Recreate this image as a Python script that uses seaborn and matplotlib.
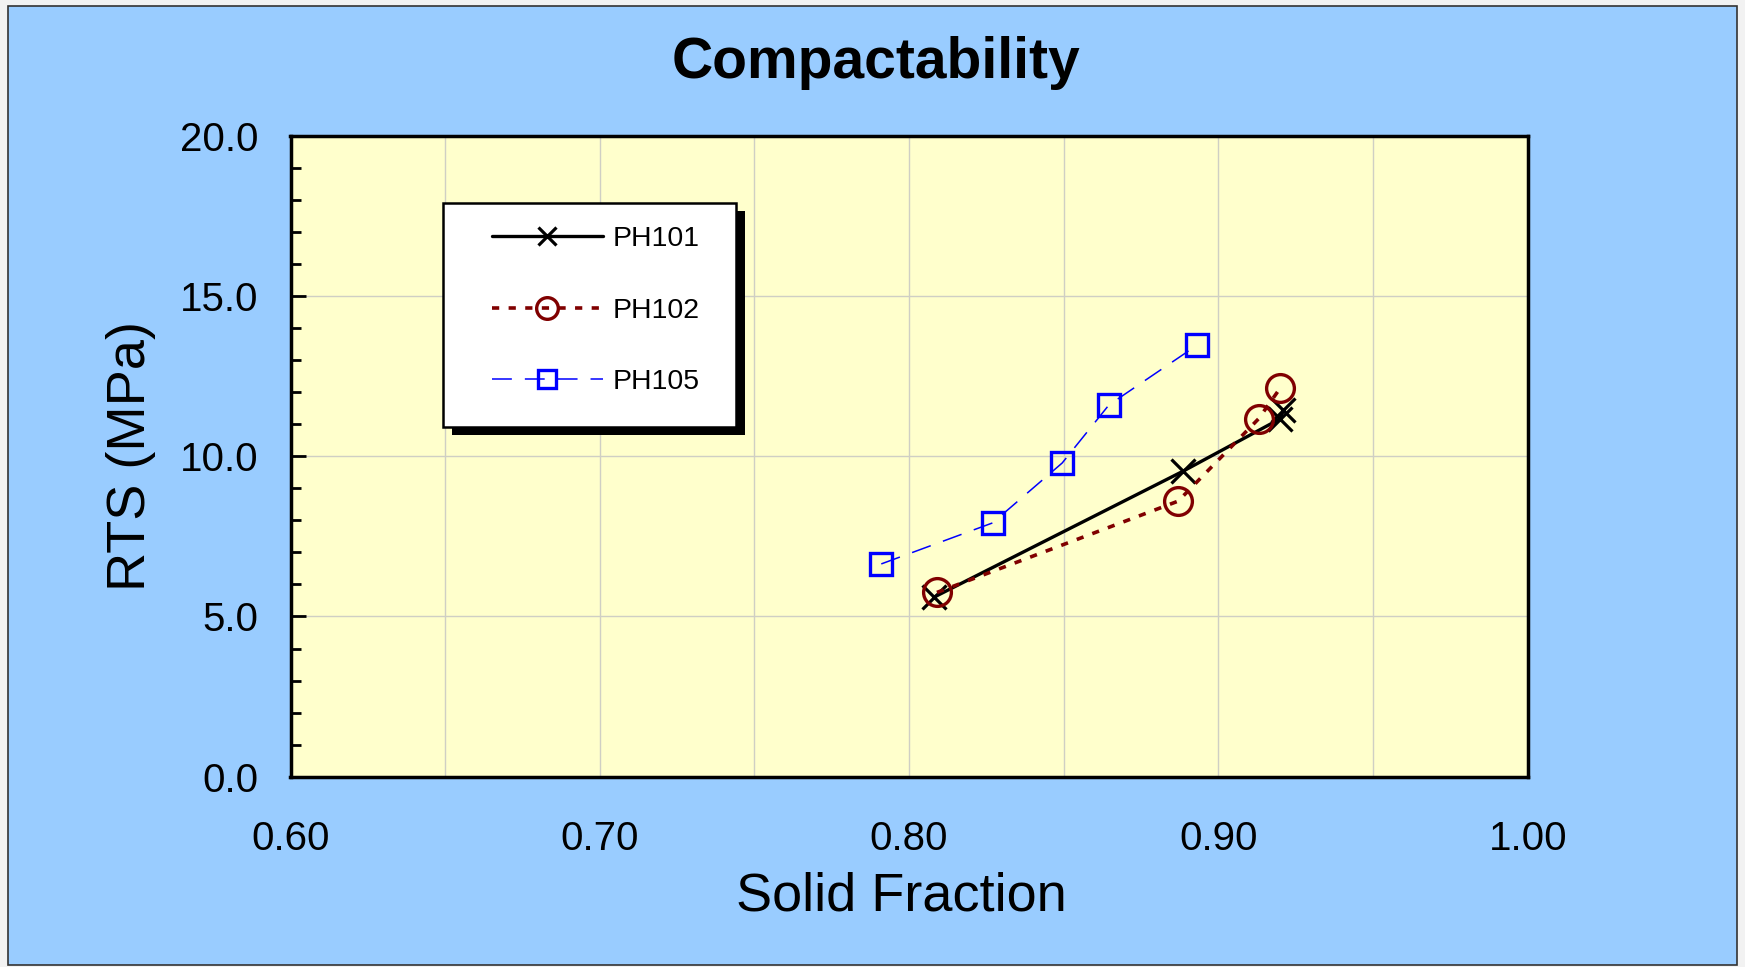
import matplotlib
matplotlib.use("Agg")
import matplotlib.pyplot as plt
import seaborn as sns
from matplotlib.patches import Rectangle
from matplotlib.ticker import MultipleLocator, FixedLocator

# ---- data ----
ph101_x = [0.808, 0.8885, 0.920, 0.921]
ph101_y = [5.60, 9.53, 11.17, 11.43]
ph102_x = [0.809, 0.887, 0.913, 0.920]
ph102_y = [5.75, 8.60, 11.17, 12.13]
ph105_x = [0.791, 0.827, 0.8495, 0.8646, 0.893]
ph105_y = [6.64, 7.92, 9.79, 11.60, 13.46]
series_names = ["PH101", "PH102", "PH105"]
x_ticks = [0.60, 0.70, 0.80, 0.90, 1.00]
y_ticks = [0.0, 5.0, 10.0, 15.0, 20.0]

sns.set_style("ticks")
plt.rcParams['font.family'] = ['Liberation Sans', 'DejaVu Sans']
plt.rcParams['text.color'] = 'black'
plt.rcParams['axes.labelcolor'] = 'black'
plt.rcParams['xtick.color'] = 'black'
plt.rcParams['ytick.color'] = 'black'

fig = plt.figure(figsize=(17.45, 9.67), dpi=100, facecolor='#F2F2F2')
# blue chart area with dark border
fig.patches.append(Rectangle((0.0046, 0.0021), 0.9908, 0.9917, transform=fig.transFigure,
                             facecolor='#99CCFF', edgecolor='#333333', linewidth=1.2, zorder=-5))

ax = fig.add_axes([290.5 / 1745, 1 - 776.7 / 967, 1237.2 / 1745, 640.9 / 967])
ax.set_zorder(1)
ax.set_facecolor('#FFFFCC')

sns.lineplot(x=ph101_x, y=ph101_y, ax=ax, sort=False, estimator=None,
             color='black', linewidth=2.4, marker='x', markersize=17.5,
             markeredgewidth=2.3, markeredgecolor='black', label=series_names[0])
sns.lineplot(x=ph102_x, y=ph102_y, ax=ax, sort=False, estimator=None,
             color='#800000', linewidth=2.6, linestyle=(0, (2.0, 2.6)), marker='o',
             markersize=20, markeredgewidth=2.4, markeredgecolor='#800000',
             markerfacecolor='none', label=series_names[1])
sns.lineplot(x=ph105_x, y=ph105_y, ax=ax, sort=False, estimator=None,
             color='#0000FF', linewidth=1.1, linestyle=(0, (13, 8.5)), marker='s',
             markersize=16, markeredgewidth=2.4, markeredgecolor='#0000FF',
             markerfacecolor='none', label=series_names[2])

ax.set_xlim(0.60, 1.00)
ax.set_ylim(0.0, 20.0)
ax.xaxis.set_major_locator(FixedLocator(x_ticks))
ax.xaxis.set_minor_locator(MultipleLocator(0.05))
ax.yaxis.set_major_locator(FixedLocator(y_ticks))
ax.yaxis.set_minor_locator(MultipleLocator(1.0))
ax.set_xticklabels([f"{v:.2f}" for v in x_ticks])
ax.set_yticklabels([f"{v:.1f}" for v in y_ticks])

ax.grid(True, which='major', axis='y', color='#CFCFC4', linewidth=1.0)
ax.grid(True, which='both', axis='x', color='#CFCFC4', linewidth=1.0)
ax.set_axisbelow(True)

ax.tick_params(axis='x', which='both', length=0, pad=31, labelsize=29)
ax.tick_params(axis='y', which='major', direction='in', length=11, width=2.0,
               pad=23, labelsize=29, left=True, right=False)
ax.tick_params(axis='y', which='minor', direction='in', length=7, width=2.0,
               left=True, right=False)

for sp in ax.spines.values():
    sp.set_visible(True)
    sp.set_color('black')
    sp.set_linewidth(2.5)

ax.set_xlabel("Solid Fraction", fontsize=39, va='baseline')
ax.xaxis.set_label_coords(0.494, -0.208)
ax.set_ylabel("RTS (MPa)", fontsize=39, va='center')
ax.yaxis.set_label_coords(-0.129, 0.5)

fig.text(876 / 1745, 1 - 78 / 967, "Compactability", fontsize=41, fontweight='bold',
         ha='center', va='baseline', color='black')

# legend: white box with black offset shadow
bx0, bx1 = 0.1230, 0.3598
by0, by1 = 0.5452, 0.8956
ax.add_patch(Rectangle((bx0 + 0.0073, by0 - 0.0125), bx1 - bx0, by1 - by0,
                       transform=ax.transAxes, facecolor='black', edgecolor='black',
                       linewidth=0, zorder=4, clip_on=False))
ax.add_patch(Rectangle((bx0, by0), bx1 - bx0, by1 - by0, transform=ax.transAxes,
                       facecolor='white', edgecolor='black', linewidth=1.8,
                       zorder=4.1, clip_on=False))
handles = ax.get_lines()[:3]
leg = ax.legend(handles=handles, labels=series_names, loc='center left',
                bbox_to_anchor=(0.1626, 0.7274), frameon=False, borderpad=0,
                fontsize=20.5, handlelength=3.9, handletextpad=0.35,
                labelspacing=1.6, markerscale=0.78, borderaxespad=0)
leg.set_zorder(5)

fig.savefig("out.png", dpi=100, facecolor=fig.get_facecolor())
